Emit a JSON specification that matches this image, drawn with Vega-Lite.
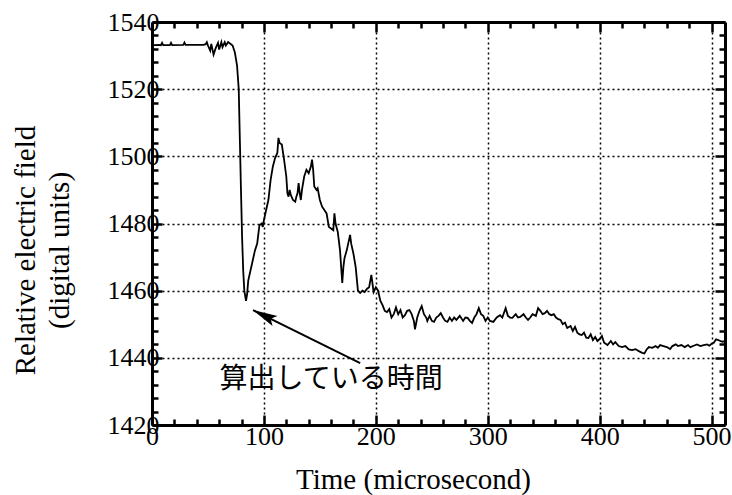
{
  "$schema": "https://vega.github.io/schema/vega-lite/v6.json",
  "autosize": {"type": "none"},
  "padding": {"left": 152, "top": 22, "right": 7, "bottom": 70},
  "width": 573,
  "height": 403,
  "background": "white",
  "config": {
    "view": {"stroke": null},
    "font": "Liberation Serif",
    "axis": {
      "domainColor": "black", "domainWidth": 3, "tickColor": "black", "tickWidth": 2.5,
      "labelColor": "black", "labelFont": "Liberation Serif", "labelFontSize": 26,
      "titleColor": "black", "titleFont": "Liberation Serif", "titleFontSize": 29, "titleFontWeight": "normal",
      "labelFlush": false, "labelOverlap": false,
      "gridColor": "black", "gridDash": [2, 3], "gridWidth": 1.5
    }
  },
  "datasets": {
    "trace": [
      {"t":0,"v":1533.1},{"t":3,"v":1533.1},{"t":6,"v":1533.2},{"t":8,"v":1533.1},{"t":9,"v":1533.8},{"t":10,"v":1533.1},
      {"t":16,"v":1533.1},{"t":17,"v":1533.8},{"t":18,"v":1533.1},{"t":28,"v":1533.2},{"t":29,"v":1533.9},{"t":30,"v":1533.2},
      {"t":40,"v":1533.2},{"t":46,"v":1533.2},{"t":48,"v":1533.4},{"t":49,"v":1534},{"t":50,"v":1533},{"t":52,"v":1531.5},
      {"t":53,"v":1533.5},{"t":55,"v":1530.3},{"t":57,"v":1532.3},{"t":59,"v":1533.8},{"t":60,"v":1531.8},{"t":62,"v":1534},
      {"t":63,"v":1532.5},{"t":65,"v":1534},{"t":66,"v":1533},{"t":68,"v":1534},{"t":70,"v":1533.5},{"t":72,"v":1533},
      {"t":74,"v":1531},{"t":76,"v":1527},{"t":77.5,"v":1520},{"t":78.5,"v":1505},{"t":79.5,"v":1490},{"t":80.5,"v":1476},
      {"t":81.5,"v":1466},{"t":82.5,"v":1460},{"t":84,"v":1457},{"t":85,"v":1459},{"t":86,"v":1463},{"t":88,"v":1466},
      {"t":90,"v":1469},{"t":92,"v":1472},{"t":94,"v":1474},{"t":96,"v":1479.5},{"t":98,"v":1480},{"t":99,"v":1479},
      {"t":100,"v":1481},{"t":102,"v":1484},{"t":104,"v":1487},{"t":106,"v":1493},{"t":108,"v":1497},{"t":110,"v":1499.5},
      {"t":112,"v":1501},{"t":113,"v":1505.5},{"t":114,"v":1504},{"t":116,"v":1503.5},{"t":118,"v":1499},{"t":120,"v":1494},
      {"t":121,"v":1489},{"t":122,"v":1488},{"t":123,"v":1490},{"t":124,"v":1488.5},{"t":126,"v":1487},{"t":128,"v":1486.5},
      {"t":129,"v":1488},{"t":130,"v":1489},{"t":131,"v":1492},{"t":132,"v":1489},{"t":133,"v":1487},{"t":134,"v":1490},
      {"t":136,"v":1494},{"t":138,"v":1496},{"t":140,"v":1495},{"t":142,"v":1497},{"t":143,"v":1499},{"t":144,"v":1496},
      {"t":145,"v":1491},{"t":147,"v":1490},{"t":148,"v":1490.5},{"t":150,"v":1487},{"t":152,"v":1485},{"t":154,"v":1484},
      {"t":156,"v":1483},{"t":158,"v":1479},{"t":160,"v":1478.5},{"t":162,"v":1478},{"t":163,"v":1483},{"t":164,"v":1480},
      {"t":166,"v":1477.5},{"t":168,"v":1472},{"t":170,"v":1462.3},{"t":171,"v":1467},{"t":172,"v":1469.7},{"t":174,"v":1472},
      {"t":177,"v":1476.6},{"t":178,"v":1474},{"t":180,"v":1471},{"t":182,"v":1467},{"t":184,"v":1460},{"t":186,"v":1459.3},
      {"t":188,"v":1460},{"t":190,"v":1459.6},{"t":192,"v":1460.5},{"t":194,"v":1461},{"t":196,"v":1464.7},{"t":198,"v":1459.6},
      {"t":200,"v":1461},{"t":202,"v":1460},{"t":204,"v":1457},{"t":206,"v":1455.7},{"t":208,"v":1454},{"t":210,"v":1453.6},
      {"t":212,"v":1454.5},{"t":214,"v":1452},{"t":216,"v":1453},{"t":218,"v":1455},{"t":220,"v":1453},{"t":222,"v":1454.2},
      {"t":224,"v":1452},{"t":226,"v":1452.7},{"t":228,"v":1454},{"t":230,"v":1454.2},{"t":232,"v":1453},{"t":234,"v":1451},
      {"t":235,"v":1448.5},{"t":237,"v":1452},{"t":239,"v":1454},{"t":241,"v":1455.4},{"t":243,"v":1453},{"t":245,"v":1452},
      {"t":246,"v":1451},{"t":248,"v":1452.5},{"t":250,"v":1451},{"t":252,"v":1450.7},{"t":254,"v":1452},{"t":256,"v":1452.5},
      {"t":258,"v":1453.3},{"t":260,"v":1452},{"t":262,"v":1451},{"t":264,"v":1450.7},{"t":266,"v":1452},{"t":268,"v":1451},
      {"t":270,"v":1452},{"t":272,"v":1451.3},{"t":275,"v":1452.5},{"t":278,"v":1451},{"t":280,"v":1452},{"t":282,"v":1451.9},
      {"t":284,"v":1451},{"t":286,"v":1450.4},{"t":288,"v":1452},{"t":290,"v":1453},{"t":292,"v":1454.8},{"t":294,"v":1453},
      {"t":296,"v":1452.5},{"t":298,"v":1451},{"t":300,"v":1452},{"t":302,"v":1451},{"t":305,"v":1450.7},{"t":308,"v":1452},
      {"t":311,"v":1452.7},{"t":313,"v":1452},{"t":316,"v":1454.8},{"t":318,"v":1452.5},{"t":320,"v":1452},{"t":322,"v":1451.9},
      {"t":325,"v":1453},{"t":327,"v":1452},{"t":329,"v":1452.2},{"t":332,"v":1453},{"t":334,"v":1452},{"t":336,"v":1451.3},
      {"t":338,"v":1452},{"t":340,"v":1453},{"t":343,"v":1452.5},{"t":345,"v":1454.8},{"t":347,"v":1454},{"t":349,"v":1453},
      {"t":351,"v":1453.3},{"t":353,"v":1454},{"t":355,"v":1453},{"t":357,"v":1452.7},{"t":359,"v":1453},{"t":361,"v":1452},
      {"t":363,"v":1451.5},{"t":365,"v":1451.3},{"t":367,"v":1450},{"t":369,"v":1450.5},{"t":371,"v":1448.9},{"t":374,"v":1449.5},
      {"t":376,"v":1448},{"t":378,"v":1449.2},{"t":380,"v":1447.5},{"t":382,"v":1447},{"t":384,"v":1446.8},{"t":386,"v":1447.5},
      {"t":388,"v":1446},{"t":390,"v":1445.9},{"t":392,"v":1447},{"t":394,"v":1445.3},{"t":396,"v":1446.2},{"t":398,"v":1445},
      {"t":400,"v":1445.6},{"t":402,"v":1446.5},{"t":404,"v":1444.5},{"t":407,"v":1443.8},{"t":410,"v":1445},{"t":412,"v":1444},
      {"t":414,"v":1444.7},{"t":417,"v":1443.5},{"t":420,"v":1443.2},{"t":423,"v":1443.5},{"t":426,"v":1442.5},{"t":429,"v":1442.3},
      {"t":432,"v":1442.6},{"t":435,"v":1442},{"t":438,"v":1441.5},{"t":440,"v":1441.3},{"t":442,"v":1442.5},{"t":444,"v":1443.2},
      {"t":447,"v":1443},{"t":450,"v":1443.5},{"t":452,"v":1443},{"t":454,"v":1443.8},{"t":457,"v":1443.5},{"t":460,"v":1443.2},
      {"t":463,"v":1442.6},{"t":465,"v":1443.5},{"t":468,"v":1444},{"t":470,"v":1443.5},{"t":473,"v":1443.8},{"t":476,"v":1443.2},
      {"t":479,"v":1443.8},{"t":481,"v":1443.2},{"t":484,"v":1443.6},{"t":487,"v":1444},{"t":490,"v":1443.5},{"t":493,"v":1443.8},
      {"t":496,"v":1444},{"t":498,"v":1443.6},{"t":500,"v":1444.2},{"t":502,"v":1444.5},{"t":504,"v":1445.5},{"t":506,"v":1445.3},
      {"t":508,"v":1445},{"t":510,"v":1444.8},{"t":512,"v":1445}
    ],
    "arrow": [
      {"t": 186, "v": 1438.4},
      {"t": 90.3, "v": 1454.2}
    ],
    "head": [{"t": 90.3, "v": 1454.2}],
    "label": [{"t": 160, "v": 1433.4, "txt": "算出している時間"}]
  },
  "resolve": {"axis": {"x": "independent", "y": "independent"}},
  "layer": [
    {
      "data": {"name": "trace"},
      "mark": {"type": "line", "color": "black", "strokeWidth": 1.8, "clip": true},
      "encoding": {
        "x": {
          "field": "t", "type": "quantitative",
          "scale": {"domain": [0, 512], "nice": false, "zero": false},
          "axis": {
            "orient": "bottom",
            "format": "d",
            "values": [0,20,40,60,80,100,120,140,160,180,200,220,240,260,280,300,320,340,360,380,400,420,440,460,480,500],
            "labelExpr": "datum.value % 100 === 0 ? datum.label : ''",
            "labelFont": "Liberation Serif", "labelFontSize": 26, "labelColor": "black",
            "tickSize": {"condition": {"test": "datum.value % 100 === 0", "value": -10}, "value": -6},
            "grid": true,
            "gridOpacity": {"condition": {"test": "datum.value % 100 === 0 && datum.value > 0", "value": 1}, "value": 0},
            "labelPadding": 8,
            "title": "Time (microsecond)",
            "titleFont": "Liberation Serif", "titleFontSize": 29,
            "titleX": 261, "titleY": 63, "titleBaseline": "alphabetic", "titleAlign": "center"
          }
        },
        "y": {
          "field": "v", "type": "quantitative",
          "scale": {"domain": [1420, 1540], "nice": false, "zero": false},
          "axis": {
            "orient": "left",
            "format": "d",
            "values": [1420,1424,1428,1432,1436,1440,1444,1448,1452,1456,1460,1464,1468,1472,1476,1480,1484,1488,1492,1496,1500,1504,1508,1512,1516,1520,1524,1528,1532,1536,1540],
            "labelExpr": "datum.value % 20 === 0 ? datum.label : ''",
            "labelFont": "Liberation Serif", "labelFontSize": 26, "labelColor": "black",
            "tickSize": {"condition": {"test": "datum.value % 20 === 0", "value": -10}, "value": -6},
            "grid": true,
            "gridOpacity": {"condition": {"test": "datum.value % 20 === 0 && datum.value > 1420 && datum.value < 1540", "value": 1}, "value": 0},
            "labelPadding": 3,
            "title": ["Relative electric field", "(digital units)"],
            "titleFont": "Liberation Serif", "titleFontSize": 29,
            "titleAngle": -90, "titleX": -141, "titleY": 228, "titleBaseline": "top", "titleAlign": "center",
            "titleLineHeight": 34
          }
        }
      }
    },
    {
      "data": {"name": "arrow"},
      "mark": {"type": "line", "color": "black", "strokeWidth": 2},
      "encoding": {
        "x": {
          "field": "t", "type": "quantitative",
          "scale": {"domain": [0, 512], "nice": false, "zero": false},
          "axis": {
            "orient": "top",
            "values": [0,20,40,60,80,100,120,140,160,180,200,220,240,260,280,300,320,340,360,380,400,420,440,460,480,500],
            "labels": false, "grid": false, "title": null,
            "tickSize": {"condition": {"test": "datum.value % 100 === 0", "value": -10}, "value": -6}
          }
        },
        "y": {
          "field": "v", "type": "quantitative",
          "scale": {"domain": [1420, 1540], "nice": false, "zero": false},
          "axis": {
            "orient": "right",
            "values": [1420,1424,1428,1432,1436,1440,1444,1448,1452,1456,1460,1464,1468,1472,1476,1480,1484,1488,1492,1496,1500,1504,1508,1512,1516,1520,1524,1528,1532,1536,1540],
            "labels": false, "grid": false, "title": null,
            "tickSize": {"condition": {"test": "datum.value % 20 === 0", "value": -10}, "value": -6}
          }
        }
      }
    },
    {
      "data": {"name": "head"},
      "mark": {"type": "point", "shape": "M0,0L-0.45,2L0,1.6L0.45,2Z", "size": 600, "filled": true, "color": "black", "opacity": 1, "angle": -63.6},
      "encoding": {
        "x": {"field": "t", "type": "quantitative", "axis": null},
        "y": {"field": "v", "type": "quantitative", "axis": null}
      }
    },
    {
      "data": {"name": "label"},
      "mark": {"type": "text", "font": "Noto Sans CJK JP", "fontSize": 28, "color": "black", "align": "center", "baseline": "middle"},
      "encoding": {
        "x": {"field": "t", "type": "quantitative", "axis": null},
        "y": {"field": "v", "type": "quantitative", "axis": null},
        "text": {"field": "txt"}
      }
    }
  ]
}
